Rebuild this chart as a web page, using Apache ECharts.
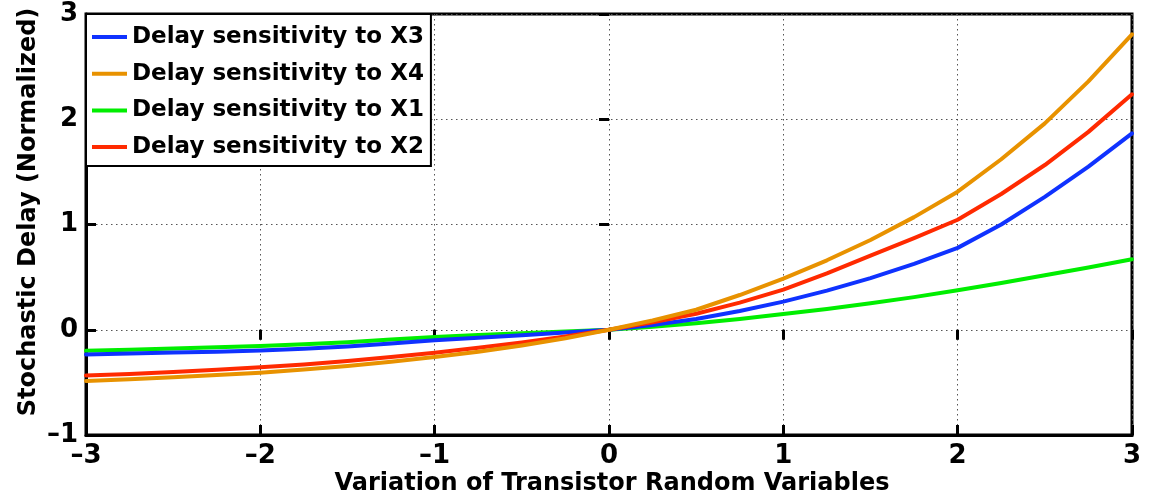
<!DOCTYPE html>
<html>
<head>
<meta charset="utf-8">
<script src="https://cdn.jsdelivr.net/npm/echarts@6/dist/echarts.min.js"></script>
<style>
  html, body { margin: 0; padding: 0; background: #fff; }
  #chart { width: 1153px; height: 498px; }
</style>
</head>
<body>
<div id="chart"></div>
<script>
// Sample positions of the transistor random variable
const xValues = [-3, -2.75, -2.5, -2.25, -2, -1.75, -1.5, -1.25, -1, -0.75, -0.5, -0.25,
                 0, 0.25, 0.5, 0.75, 1, 1.25, 1.5, 1.75, 2, 2.25, 2.5, 2.75, 3];

// Normalized stochastic delay for each sensitivity
const delayX3 = [-0.234, -0.226, -0.217, -0.208, -0.197, -0.180, -0.158, -0.130, -0.100, -0.075, -0.052, -0.027,
                 0, 0.045, 0.102, 0.178, 0.267, 0.372, 0.490, 0.625, 0.778, 1.000, 1.262, 1.550, 1.866];
const delayX4 = [-0.487, -0.471, -0.452, -0.431, -0.408, -0.377, -0.344, -0.304, -0.258, -0.209, -0.149, -0.080,
                 0, 0.088, 0.190, 0.330, 0.485, 0.660, 0.853, 1.070, 1.312, 1.620, 1.961, 2.360, 2.807];
const delayX1 = [-0.199, -0.190, -0.178, -0.166, -0.154, -0.138, -0.118, -0.093, -0.068, -0.050, -0.034, -0.017,
                 0, 0.028, 0.061, 0.103, 0.150, 0.198, 0.251, 0.310, 0.375, 0.445, 0.517, 0.592, 0.670];
const delayX2 = [-0.434, -0.420, -0.402, -0.381, -0.357, -0.330, -0.298, -0.259, -0.218, -0.172, -0.122, -0.064,
                 0, 0.072, 0.152, 0.258, 0.382, 0.535, 0.705, 0.870, 1.045, 1.290, 1.565, 1.880, 2.237];

const seriesNames = ['Delay sensitivity to X3', 'Delay sensitivity to X4', 'Delay sensitivity to X1', 'Delay sensitivity to X2'];
const seriesColors = ['#0f32ff', '#e89200', '#00ee00', '#ff2a00'];
const seriesValues = [delayX3, delayX4, delayX1, delayX2];
const seriesZ = [4, 6, 3, 5];

const FONT = '"DejaVu Sans", Verdana, sans-serif';
const fmtTick = v => String(v).replace('-', '\u2013');

const gridLine = { show: true, lineStyle: { color: '#555', width: 1, type: [1.5, 3.5] } };
const tickLabel = { fontFamily: FONT, fontWeight: 'bold', fontSize: 26, color: '#000' };
const innerTick = { show: true, inside: true, length: 10, lineStyle: { color: '#000', width: 3 } };

const chart = echarts.init(document.getElementById('chart'), null, { renderer: 'canvas' });

chart.setOption({
  animation: false,
  backgroundColor: '#fff',
  grid: {
    left: 86, right: 21, top: 14, bottom: 63,
    show: true, borderColor: '#000', borderWidth: 3, backgroundColor: 'transparent'
  },
  legend: {
    left: 86, top: 14,
    orient: 'vertical',
    backgroundColor: '#fff',
    borderColor: '#000', borderWidth: 2,
    padding: [10, 7, 6, 6],
    itemGap: 10.7,
    itemWidth: 35, itemHeight: 4,
    icon: 'rect',
    textStyle: { fontFamily: FONT, fontWeight: 'bold', fontSize: 23, color: '#000', lineHeight: 26 },
    data: seriesNames
  },
  xAxis: [{
    type: 'value', min: -3, max: 3, interval: 1,
    axisLine: { show: true, onZero: false, lineStyle: { color: '#000', width: 3 } },
    axisTick: innerTick,
    axisLabel: Object.assign({ margin: 8, formatter: fmtTick }, tickLabel),
    splitLine: gridLine
  }, {
    type: 'value', min: -3, max: 3, interval: 1, position: 'top',
    axisLine: { show: false },
    axisTick: innerTick,
    axisLabel: { show: false },
    splitLine: { show: false }
  }],
  yAxis: [{
    type: 'value', min: -1, max: 3, interval: 1,
    axisLine: { show: true, onZero: false, lineStyle: { color: '#000', width: 3 } },
    axisTick: innerTick,
    axisLabel: Object.assign({ margin: 8, formatter: fmtTick }, tickLabel),
    splitLine: gridLine
  }, {
    type: 'value', min: -1, max: 3, interval: 1, position: 'right',
    axisLine: { show: false },
    axisTick: innerTick,
    axisLabel: { show: false },
    splitLine: { show: false }
  }],
  graphic: [{
    type: 'text', x: 612, y: 484,
    style: {
      text: 'Variation of Transistor Random Variables',
      font: 'bold 24px ' + FONT, fill: '#000',
      align: 'center', verticalAlign: 'middle'
    }
  }, {
    type: 'text', x: 29, y: 212, rotation: Math.PI / 2,
    style: {
      text: 'Stochastic Delay (Normalized)',
      font: 'bold 24px ' + FONT, fill: '#000',
      align: 'center', verticalAlign: 'middle'
    }
  }],
  series: seriesNames.map((name, i) => ({
    name: name,
    type: 'line',
    xAxisIndex: 0, yAxisIndex: 0,
    data: xValues.map((x, j) => [x, seriesValues[i][j]]),
    smooth: false,
    showSymbol: false,
    symbol: 'none',
    color: seriesColors[i],
    lineStyle: { color: seriesColors[i], width: 4, join: 'round', cap: 'round' },
    z: seriesZ[i]
  }))
});
</script>
</body>
</html>
